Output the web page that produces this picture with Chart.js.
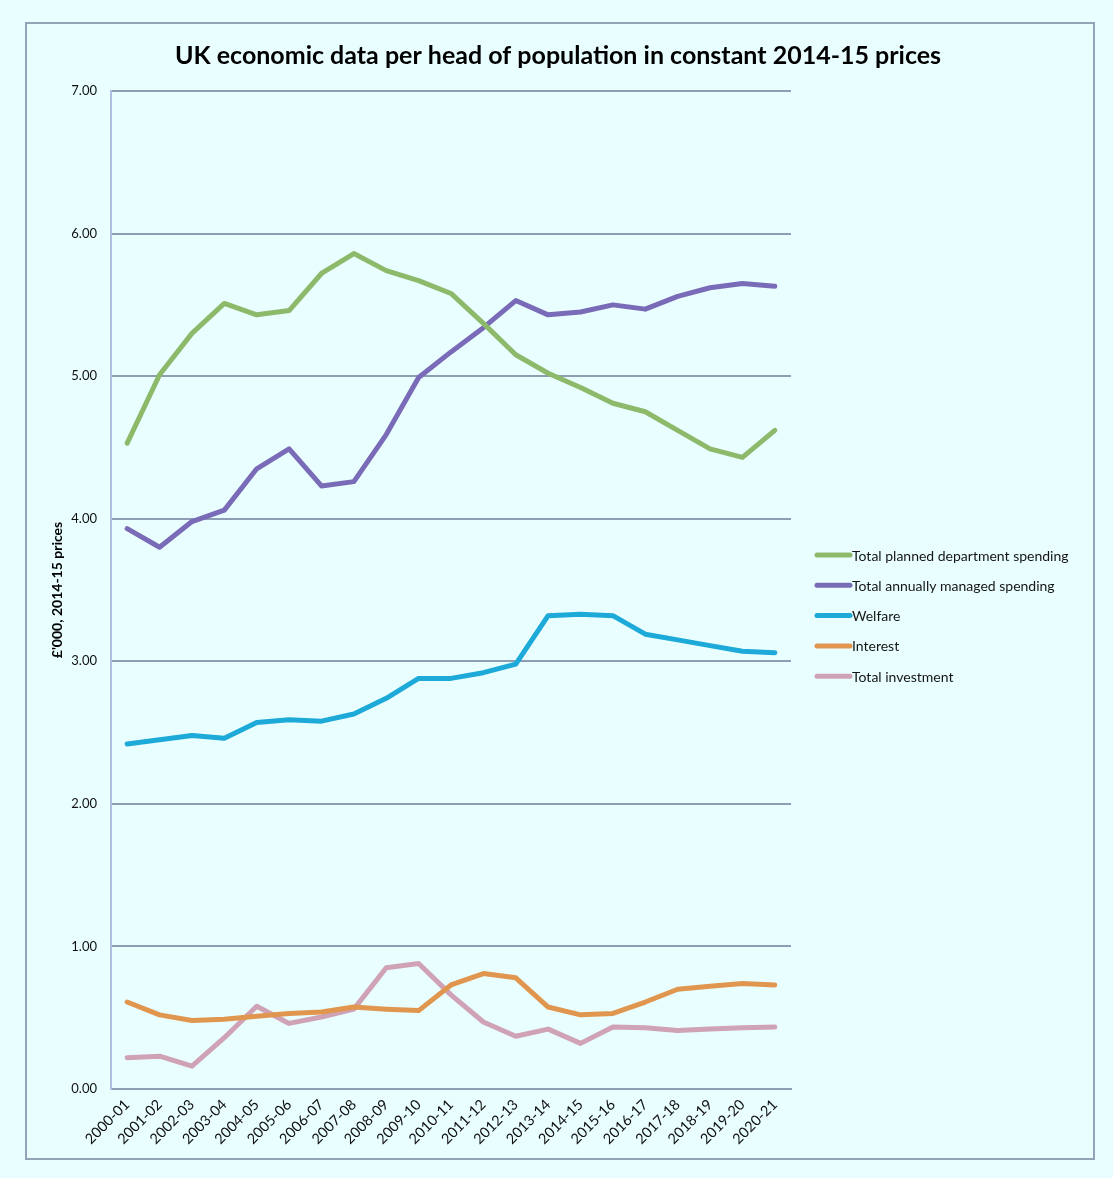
<!DOCTYPE html>
<html>
<head>
<meta charset="utf-8">
<script src="https://cdn.jsdelivr.net/npm/chart.js@4.4.1/dist/chart.umd.min.js"></script>
<style>
  html, body { margin: 0; padding: 0; background: #e9fefe; }
  #wrap { position: relative; width: 1113px; height: 1178px; }
  #frame { position: absolute; left: 25px; top: 22px; width: 1066px; height: 1134px;
           border: 2px solid #93a3b8; pointer-events: none; }
  canvas { position: absolute; left: 0; top: 0; }
</style>
</head>
<body>
<div id="wrap">
  <canvas id="myChart" width="1113" height="1178"></canvas>
  <div id="frame"></div>
</div>
<script>
const years = ['2000-01', '2001-02', '2002-03', '2003-04', '2004-05', '2005-06', '2006-07',
  '2007-08', '2008-09', '2009-10', '2010-11', '2011-12', '2012-13', '2013-14', '2014-15',
  '2015-16', '2016-17', '2017-18', '2018-19', '2019-20', '2020-21'];

const departmentSpending = [4.53, 5.01, 5.30, 5.51, 5.43, 5.46, 5.72, 5.86, 5.74, 5.67, 5.58,
  5.37, 5.15, 5.02, 4.92, 4.81, 4.75, 4.62, 4.49, 4.43, 4.62];
const managedSpending = [3.93, 3.80, 3.98, 4.06, 4.35, 4.49, 4.23, 4.26, 4.59, 4.99, 5.17,
  5.34, 5.53, 5.43, 5.45, 5.50, 5.47, 5.56, 5.62, 5.65, 5.63];
const welfare = [2.42, 2.45, 2.48, 2.46, 2.57, 2.59, 2.58, 2.63, 2.74, 2.88, 2.88,
  2.92, 2.98, 3.32, 3.33, 3.32, 3.19, 3.15, 3.11, 3.07, 3.06];
const interest = [0.61, 0.52, 0.48, 0.49, 0.51, 0.53, 0.54, 0.575, 0.56, 0.55, 0.73,
  0.81, 0.78, 0.575, 0.52, 0.53, 0.61, 0.70, 0.72, 0.74, 0.73];
const investment = [0.22, 0.23, 0.16, 0.36, 0.58, 0.46, 0.505, 0.56, 0.85, 0.88, 0.66,
  0.47, 0.37, 0.42, 0.32, 0.435, 0.43, 0.41, 0.42, 0.43, 0.435];

const seriesNames = ['Total planned department spending', 'Total annually managed spending',
  'Welfare', 'Interest', 'Total investment'];
const yTicks = [0, 1, 2, 3, 4, 5, 6, 7];

const colours = ['#8db96b', '#7a6bb8', '#1eaad9', '#e0964f', '#cfa2b6'];
const font = 'Lato, "Open Sans", sans-serif';

// legend to the right of the plot, the line sample runs straight into the text
const sideLegend = {
  id: 'sideLegend',
  afterDraw(chart) {
    const ctx = chart.ctx;
    const area = chart.chartArea;
    const x = area.right + 26;
    let y = (area.top + area.bottom) / 2 - 35;
    ctx.save();
    ctx.font = '14px ' + font;
    ctx.textBaseline = 'middle';
    ctx.lineCap = 'round';
    chart.data.datasets.forEach(ds => {
      ctx.strokeStyle = ds.borderColor;
      ctx.lineWidth = 5;
      ctx.beginPath();
      ctx.moveTo(x, y);
      ctx.lineTo(x + 33, y);
      ctx.stroke();
      ctx.fillStyle = '#151515';
      ctx.fillText(ds.label, x + 35, y + 1);
      y += 30.3;
    });
    ctx.restore();
  }
};

let ctx = document.getElementById('myChart').getContext('2d');
let seriesData = [departmentSpending, managedSpending, welfare, interest, investment];

let myChart = new Chart(ctx, {
  type: 'line',
  data: {
    labels: years,
    datasets: seriesData.map((d, i) => ({
      label: seriesNames[i],
      data: d,
      borderColor: colours[i],
      backgroundColor: colours[i],
      borderWidth: 5,
      pointRadius: 0,
      tension: 0,
      borderCapStyle: 'round',
      borderJoinStyle: 'round'
    }))
  },
  options: {
    responsive: false,
    animation: false,
    layout: {
      padding: { left: 49, right: 46, top: 0, bottom: 0 }
    },
    plugins: {
      legend: { display: false },
      tooltip: { enabled: false },
      title: {
        display: true,
        text: 'UK economic data per head of population in constant 2014-15 prices',
        color: '#000',
        font: { family: font, size: 25, weight: 'bold' },
        padding: { top: 41, bottom: 20 }
      }
    },
    scales: {
      x: {
        offset: true,
        afterFit: axis => { axis.height = 89; },
        grid: { display: false, drawTicks: false },
        border: { display: true, color: '#8d9db3', width: 2 },
        ticks: {
          color: '#111',
          font: { family: font, size: 14.5 },
          maxRotation: 45,
          minRotation: 45,
          autoSkip: false,
          padding: 7
        }
      },
      y: {
        min: 0,
        max: 7,
        afterBuildTicks: axis => { axis.ticks = yTicks.map(v => ({ value: v })); },
        afterFit: axis => { axis.width = 62; },
        grid: { color: '#8d9db3', lineWidth: 2, drawTicks: false },
        border: { display: true, color: '#aebde0', width: 2 },
        ticks: {
          color: '#111',
          font: { family: font, size: 13 },
          padding: 14,
          callback: v => v.toFixed(2)
        },
        title: {
          display: true,
          text: '£\'000, 2014-15 prices',
          color: '#000',
          font: { family: font, size: 14, weight: 'bold' },
          padding: { top: 0, bottom: 7 }
        }
      },
      // empty right-hand axis that only keeps room for the legend
      legendRoom: {
        type: 'linear',
        position: 'right',
        grid: { display: false },
        border: { display: false },
        ticks: { display: false },
        afterFit: axis => { axis.width = 276; }
      }
    }
  },
  plugins: [sideLegend]
});
</script>
</body>
</html>
